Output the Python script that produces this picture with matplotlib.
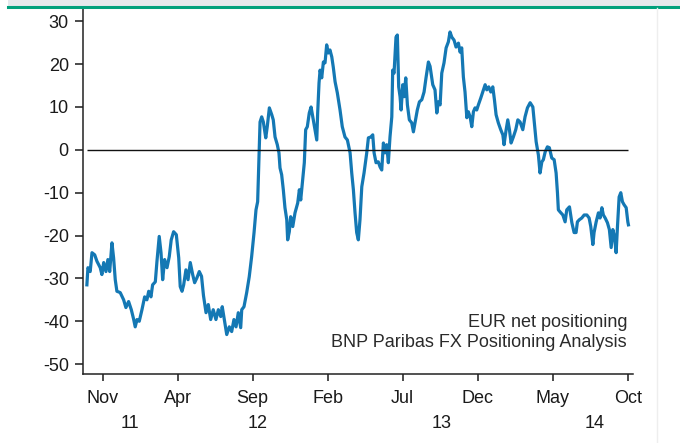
import matplotlib
matplotlib.use("Agg")
import matplotlib.pyplot as plt
from matplotlib.lines import Line2D
from matplotlib.patches import Rectangle


# =========================================
# DATA
# =========================================

# months since Nov 2011 (weekly-ish readings)
months = [
    -1.05, -0.98, -0.83, -0.71, -0.53, -0.38, -0.16, -0.05, 0.07, 0.22,
    0.35, 0.47, 0.62, 0.73, 0.84, 0.95, 1.17, 1.40, 1.55, 1.73,
    1.91, 2.07, 2.17, 2.29, 2.44, 2.62, 2.80, 2.95, 3.07, 3.22,
    3.33, 3.51, 3.62, 3.77, 3.89, 4.00, 4.13, 4.29, 4.44, 4.57,
    4.73, 4.91, 5.07, 5.17, 5.29, 5.40, 5.55, 5.69, 5.84, 6.00,
    6.13, 6.29, 6.44, 6.59, 6.72, 6.89, 7.04, 7.20, 7.37, 7.55,
    7.71, 7.87, 7.97, 8.11, 8.27, 8.44, 8.60, 8.75, 8.89, 9.04,
    9.20, 9.27, 9.42, 9.60, 9.77, 9.93, 10.09, 10.22, 10.33, 10.44,
    10.49, 10.60, 10.71, 10.87, 10.97, 11.11, 11.27, 11.37, 11.49, 11.64,
    11.75, 11.82, 11.93, 12.04, 12.15, 12.27, 12.33, 12.44, 12.53, 12.67,
    12.82, 13.00, 13.11, 13.20, 13.33, 13.44, 13.53, 13.64, 13.77, 13.89,
    14.04, 14.15, 14.27, 14.33, 14.42, 14.49, 14.60, 14.71, 14.82, 14.93,
    15.04, 15.15, 15.27, 15.37, 15.49, 15.64, 15.82, 15.97, 16.15, 16.31,
    16.49, 16.60, 16.71, 16.82, 16.93, 17.04, 17.15, 17.27, 17.42, 17.60,
    17.71, 17.87, 18.00, 18.09, 18.22, 18.37, 18.49, 18.60, 18.71, 18.82,
    18.93, 19.04, 19.15, 19.27, 19.33, 19.42, 19.55, 19.64, 19.73, 19.82,
    19.89, 20.00, 20.09, 20.20, 20.31, 20.44, 20.60, 20.71, 20.82, 20.97,
    21.11, 21.27, 21.42, 21.55, 21.71, 21.82, 22.00, 22.15, 22.27, 22.37,
    22.49, 22.60, 22.75, 22.89, 23.04, 23.15, 23.27, 23.42, 23.55, 23.71,
    23.82, 23.93, 24.04, 24.15, 24.27, 24.37, 24.49, 24.60, 24.71, 24.82,
    24.93, 25.04, 25.20, 25.33, 25.49, 25.60, 25.73, 25.87, 26.00, 26.11,
    26.22, 26.37, 26.53, 26.67, 26.75, 26.89, 27.00, 27.11, 27.22, 27.37,
    27.53, 27.67, 27.82, 28.00, 28.15, 28.31, 28.49, 28.67, 28.75, 28.89,
    29.04, 29.15, 29.27, 29.37, 29.49, 29.64, 29.77, 29.93, 30.09, 30.22,
    30.31, 30.37, 30.49, 30.67, 30.82, 30.93, 31.11, 31.27, 31.42, 31.55,
    31.64, 31.77, 31.93, 32.09, 32.27, 32.42, 32.53, 32.67, 32.75, 32.89,
    33.04, 33.15, 33.27, 33.37, 33.49, 33.64, 33.77, 33.89, 34.00, 34.11,
    34.22, 34.31, 34.42, 34.53, 34.64, 34.75, 34.89, 35.00, 35.04,
]

net_pos = [
    -31.5, -27.5, -28.4, -24.0, -24.5, -26.0, -27.5, -29.1, -26.3, -28.4,
    -25.6, -28.4, -21.7, -25.2, -30.3, -33.0, -33.3, -35.0, -36.8, -35.4,
    -37.3, -39.6, -41.3, -39.6, -40.0, -37.3, -34.3, -35.0, -33.0, -34.3,
    -31.5, -30.8, -26.0, -20.2, -24.0, -30.3, -25.6, -27.5, -24.9, -21.0,
    -19.1, -19.8, -25.2, -31.9, -33.0, -31.5, -28.0, -30.3, -26.3, -29.1,
    -31.0, -29.8, -28.4, -29.5, -34.0, -38.0, -36.1, -39.6, -37.3, -39.6,
    -37.3, -38.9, -36.6, -39.6, -43.1, -41.3, -42.4, -39.6, -41.3, -38.0,
    -41.5, -37.3, -36.6, -33.3, -29.6, -24.9, -19.3, -14.0, -12.1, 0.7,
    6.5, 7.7, 6.5, 2.8, 5.4, 9.8, 8.2, 7.0, 3.0, 1.2,
    -0.7, -4.2, -5.8, -9.3, -13.5, -16.3, -21.0, -19.1, -15.6, -17.9,
    -14.7, -12.4, -9.3, -11.7, -7.0, -3.0, 4.7, 5.4, 8.6, 10.0,
    7.0, 4.7, 2.3, 8.6, 15.6, 18.6, 16.8, 20.5, 20.3, 24.5,
    22.6, 23.3, 21.7, 19.3, 15.9, 13.3, 9.3, 5.4, 3.0, 2.3,
    -0.7, -5.4, -9.3, -14.7, -19.3, -21.0, -16.3, -8.6, -5.4, -0.7,
    2.8, 3.0, 3.5, -0.7, -3.0, -2.8, -4.0, -4.7, 1.6, -0.7,
    1.2, -3.0, 3.0, 7.7, 18.6, 17.9, 26.3, 26.8, 14.7, 12.4,
    9.3, 15.2, 12.4, 16.8, 10.5, 7.0, 6.3, 4.2, 6.3, 9.3,
    11.2, 11.7, 13.5, 16.8, 20.5, 19.5, 15.2, 14.0, 8.6, 11.2,
    10.5, 17.9, 20.3, 23.8, 25.2, 27.5, 26.3, 25.6, 24.0, 24.9,
    22.8, 23.8, 17.0, 13.5, 7.5, 8.9, 7.7, 5.4, 8.9, 9.8,
    9.3, 10.5, 12.1, 13.5, 15.2, 14.0, 14.7, 13.5, 14.7, 11.7,
    8.2, 6.3, 4.7, 3.5, 1.2, 4.7, 7.0, 4.7, 1.6, 3.0,
    4.7, 7.0, 6.5, 4.7, 7.7, 9.8, 11.0, 10.0, 7.0, 1.9,
    -1.2, -5.4, -2.8, -2.3, -0.5, 0.7, 0.5, -1.9, -2.3, -5.4,
    -10.0, -14.0, -14.5, -15.2, -16.8, -14.0, -13.3, -17.0, -19.3, -19.3,
    -16.8, -16.3, -15.9, -15.2, -15.2, -15.9, -17.9, -22.1, -19.3, -16.8,
    -14.7, -15.9, -13.5, -15.2, -15.9, -17.0, -18.6, -22.8, -18.6, -20.2,
    -24.0, -17.9, -11.0, -10.0, -12.1, -12.8, -13.5, -16.8, -17.5,
]

month_ticks = [0, 5, 10, 15, 20, 25, 30, 35]
month_labels = ["Nov", "Apr", "Sep", "Feb", "Jul", "Dec", "May", "Oct"]
year_labels = ["11", "12", "13", "14"]
y_ticks = [30, 20, 10, 0, -10, -20, -30, -40, -50]


# =========================================
# FIGURE
# =========================================

plt.rcParams["font.family"] = ["Liberation Sans", "DejaVu Sans"]

FS = 13

fig = plt.figure(figsize=(6.8, 4.43), dpi=100)

# grey band + green rule on top, faint border on the right
fig.add_artist(Rectangle((0.012, 0.986), 0.988, 0.014,
                         transform=fig.transFigure,
                         facecolor="#e4e8ec", edgecolor="none"))
fig.add_artist(Line2D([0.012, 1.0], [0.9835, 0.9835],
                      transform=fig.transFigure,
                      color="#00a07c", linewidth=2.2))
fig.add_artist(Line2D([0.966, 0.966], [0.0, 0.981],
                      transform=fig.transFigure,
                      color="#eeeeee", linewidth=1.0))

ax = fig.add_axes([0.1216, 0.1558, 0.8094, 0.8242])

ax.plot(months, net_pos, color="#1478b4", linewidth=2.3,
        solid_joinstyle="round")

ax.hlines(0, months[0], months[-1], color="#111111", linewidth=1.0,
          zorder=3)

ax.set_xlim(-1.33, 35.35)
ax.set_ylim(-52.3, 32.9)

# =====================================
# AXES STYLE
# =====================================

for side in ["top", "right"]:
    ax.spines[side].set_visible(False)

for side in ["left", "bottom"]:
    ax.spines[side].set_color("#222222")
    ax.spines[side].set_linewidth(1.1)

ax.set_yticks(y_ticks)
ax.set_yticklabels([str(v) for v in y_ticks])

ax.set_xticks(month_ticks)
ax.set_xticklabels(month_labels)

ax.tick_params(axis="y", direction="out", length=6, width=1.1,
               pad=4, labelsize=FS, colors="#1a1a1a")
ax.tick_params(axis="x", direction="out", length=5, width=1.1,
               pad=6.5, labelsize=FS, colors="#1a1a1a")

# year labels under the months
for label, xpos in zip(year_labels, [1.8, 10.3, 22.6, 32.8]):
    ax.annotate(label, xy=(xpos, 0), xycoords=("data", "axes fraction"),
                xytext=(0, -35.5), textcoords="offset points",
                ha="center", va="center", fontsize=FS, color="#1a1a1a")

# =====================================
# LABELS
# =====================================

ax.text(0.989, 0.142, "EUR net positioning", transform=ax.transAxes,
        ha="right", va="center", fontsize=FS, color="#2a2a2a")
ax.text(0.989, 0.085, "BNP Paribas FX Positioning Analysis",
        transform=ax.transAxes, ha="right", va="center",
        fontsize=FS, color="#2a2a2a")

fig.savefig("out.png", dpi=100)
plt.close(fig)
